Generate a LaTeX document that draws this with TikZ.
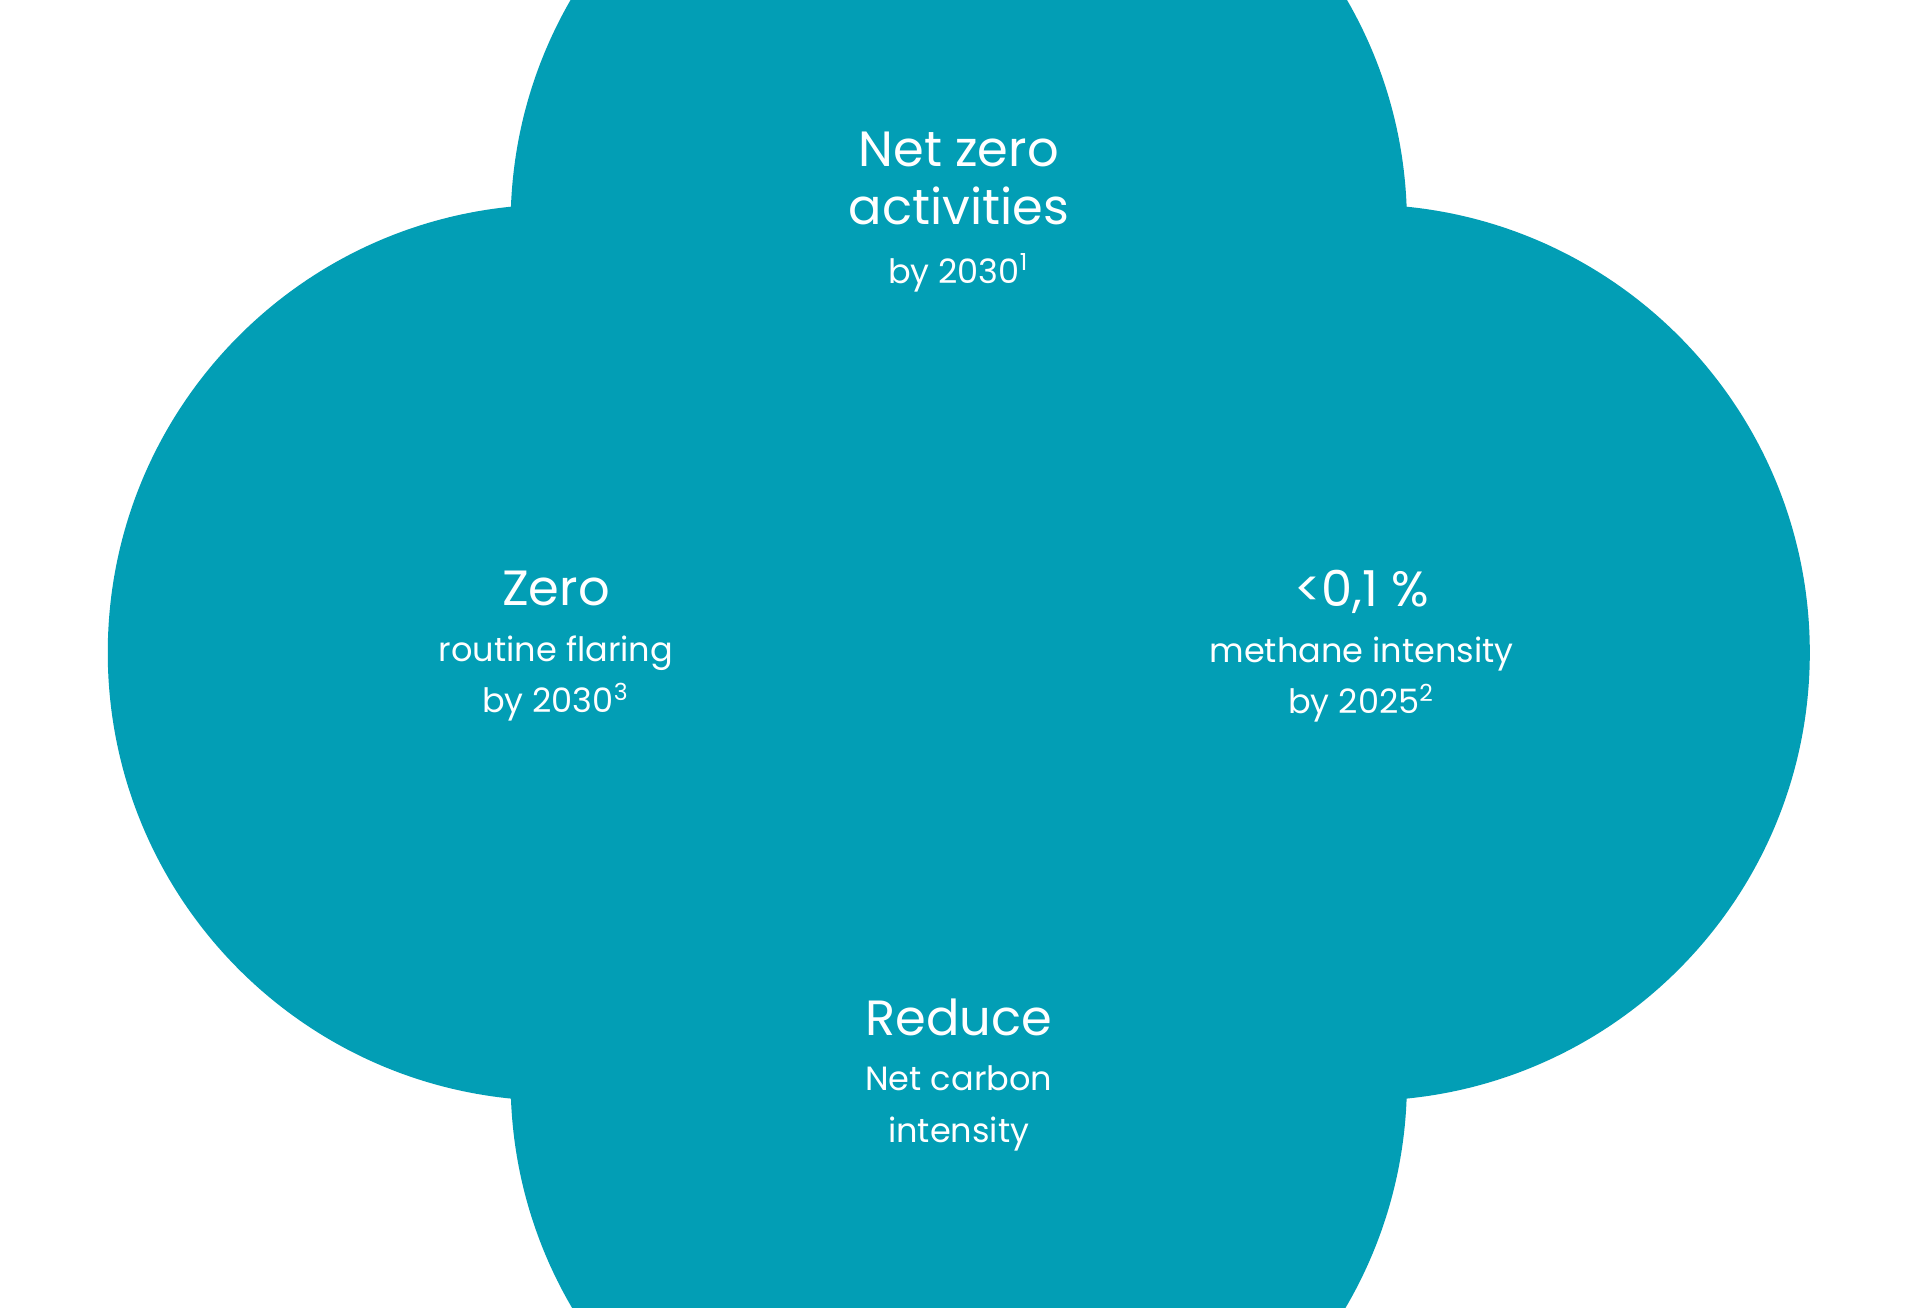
\documentclass[tikz,border=0pt]{standalone}
\usepackage{fontspec}
\setmainfont{Poppins}
\usepackage{xcolor}
\usetikzlibrary{calc}
\definecolor{tealgoal}{HTML}{029EB5}
\definecolor{ringgray}{HTML}{E4ECEF}
\tikzset{
  goal/.style={circle, fill=tealgoal, minimum size=7.32cm, inner sep=0pt},
  goaltext/.style={text=white, align=center},
  ring/.style={draw=ringgray, line width=0.8pt}
}
\newcommand{\goaltitle}{\fontsize{11.5}{15}\selectfont}
\newcommand{\goalsub}{\fontsize{7.8}{10}\selectfont}
\begin{document}
\begin{tikzpicture}[x=1cm,y=1cm]
\useasboundingbox (0,0) rectangle (15.68,10.68);
\fill[white] (0,0) rectangle (15.68,10.68);

% Rings
\coordinate (core) at (7.83,5.53);
\foreach \r in {0.28,0.66,1.05,1.44,1.83,2.22,2.61,3.00,3.39,3.78}
  \draw[ring] (core) circle (\r);

% Goals
\node (top) [goal] at (7.83,8.85) {};
\node (left) [goal] at (4.54,5.35) {};
\node (right) [goal] at (11.12,5.35) {};
\node (bottom) [goal] at (7.83,1.85) {};

% Texts
\node (toptext) [goaltext] at ($(top)+(0,0.1)$) {\goaltitle Net zero\\[0.5mm]\goaltitle activities\\[0.6mm]\goalsub by 2030\textsuperscript{1}};
\node (lefttext) [goaltext] at ($(left)+(0,0.05)$) {\goaltitle Zero\\[0.3mm]\goalsub routine flaring\\\goalsub by 2030\textsuperscript{3}};
\node (righttext) [goaltext] at ($(right)+(0,0.05)$) {\goaltitle <0,1 \%\\[0.3mm]\goalsub methane intensity\\\goalsub by 2025\textsuperscript{2}};
\node (bottomtext) [goaltext] at ($(bottom)+(0,0.05)$) {\goaltitle Reduce\\[0.3mm]\goalsub Net carbon\\\goalsub intensity};
\end{tikzpicture}
\end{document}
